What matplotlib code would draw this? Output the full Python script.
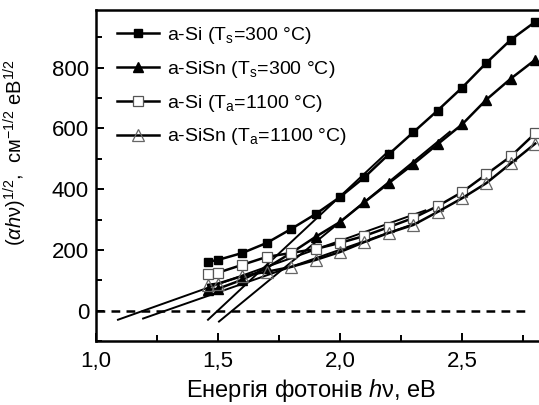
import matplotlib
matplotlib.use("Agg")
import matplotlib.pyplot as plt
from matplotlib.ticker import MultipleLocator, FuncFormatter

plt.rcParams['font.family'] = ['Liberation Sans', 'DejaVu Sans']
plt.rcParams['mathtext.fontset'] = 'custom'
plt.rcParams['mathtext.rm'] = 'Liberation Sans'
plt.rcParams['mathtext.it'] = 'Liberation Sans:italic'
plt.rcParams['mathtext.bf'] = 'Liberation Sans:bold'

# photon energy, eV
energy = [1.46, 1.5, 1.6, 1.7, 1.8, 1.9, 2.0, 2.1, 2.2, 2.3, 2.4, 2.5, 2.6, 2.7, 2.8]
si_300 = [161, 167, 190, 223, 269, 318, 374, 439, 515, 587, 659, 734, 816, 892, 951]
sisn_300 = [69, 72, 102, 141, 190, 243, 292, 357, 420, 482, 548, 613, 695, 764, 826]
si_1100 = [121, 125, 151, 177, 190, 203, 223, 246, 275, 305, 344, 390, 449, 508, 584]
sisn_1100 = [85, 89, 114, 128, 144, 167, 193, 226, 256, 282, 325, 370, 420, 485, 550]

labels = ['a-Si (T$_\\mathrm{s}$=300 °C)', 'a-SiSn (T$_\\mathrm{s}$=300 °C)',
          'a-Si (T$_\\mathrm{a}$=1100 °C)', 'a-SiSn (T$_\\mathrm{a}$=1100 °C)']

# tangent (Tauc) lines: x range endpoints and y at those endpoints
tangent_x = [[1.459, 2.2], [1.504, 2.45], [1.09, 2.35], [1.193, 2.29]]
tangent_y = [[-30, 526], [-36, 589], [-30, 330], [-26, 282]]

W, H = 539, 405
fig = plt.figure(figsize=(W / 100, H / 100), dpi=100)
left_px, right_px, top_px, bot_px = 96, 545, 10, 341
ax = fig.add_axes([left_px / W, 1 - bot_px / H, (right_px - left_px) / W, (bot_px - top_px) / H])
xmax = 1.0 + (right_px - left_px) / 244

for tx, ty in zip(tangent_x, tangent_y):
    ax.plot(tx, ty, color='black', lw=1.4, zorder=2)

ax.axhline(0, color='black', lw=1.8, ls=(0, (3.5, 2.5)), xmin=0, xmax=(2.77 - 1.0) / (xmax - 1.0), zorder=1)

ax.plot(energy, si_300, '-s', color='black', lw=1.8, ms=6, mfc='black', mec='black', label=labels[0], zorder=3)
ax.plot(energy, sisn_300, '-^', color='black', lw=1.8, ms=7, mfc='black', mec='black', label=labels[1], zorder=3)
ax.plot(energy, si_1100, '-s', color='black', lw=1.8, ms=7, mfc='white', mec='#555555', mew=0.9, label=labels[2], zorder=4)
ax.plot(energy, sisn_1100, '-^', color='black', lw=1.8, ms=8.5, mfc='none', mec='#666666', mew=0.9, label=labels[3], zorder=4)

ax.set_xlim(1.0, xmax)
ax.set_ylim(-100, 990)
ax.xaxis.set_major_locator(MultipleLocator(0.5))
ax.xaxis.set_minor_locator(MultipleLocator(0.25))
ax.yaxis.set_major_locator(MultipleLocator(200))
ax.yaxis.set_minor_locator(MultipleLocator(100))
ax.xaxis.set_major_formatter(FuncFormatter(lambda v, p: f"{v:.1f}".replace('.', ',')))
ax.tick_params(which='both', direction='in', labelsize=16, width=1.4, top=False, right=False)
ax.tick_params(which='major', length=6)
ax.tick_params(which='minor', length=4)
ax.tick_params(axis='x', pad=7)
ax.tick_params(axis='y', pad=5)
for s in ['left', 'bottom', 'top']:
    ax.spines[s].set_linewidth(1.8)
ax.spines['right'].set_visible(False)

ax.set_xlabel('Енергія фотонів $h$ν, еВ', fontsize=17)
ax.xaxis.set_label_coords(0.479, -0.11)
ax.set_ylabel('$(\\alpha h$ν$)^{1/2}$,  см$^{-1/2}$ еВ$^{1/2}$', fontsize=14.5)
ax.yaxis.set_label_coords(-0.15, 0.57)

leg = ax.legend(loc='upper left', frameon=False, fontsize=14, handlelength=2.2,
                handletextpad=0.4, labelspacing=0.66, borderaxespad=0.2, bbox_to_anchor=(0.02, 0.99))

fig.savefig('out.png', dpi=100)
